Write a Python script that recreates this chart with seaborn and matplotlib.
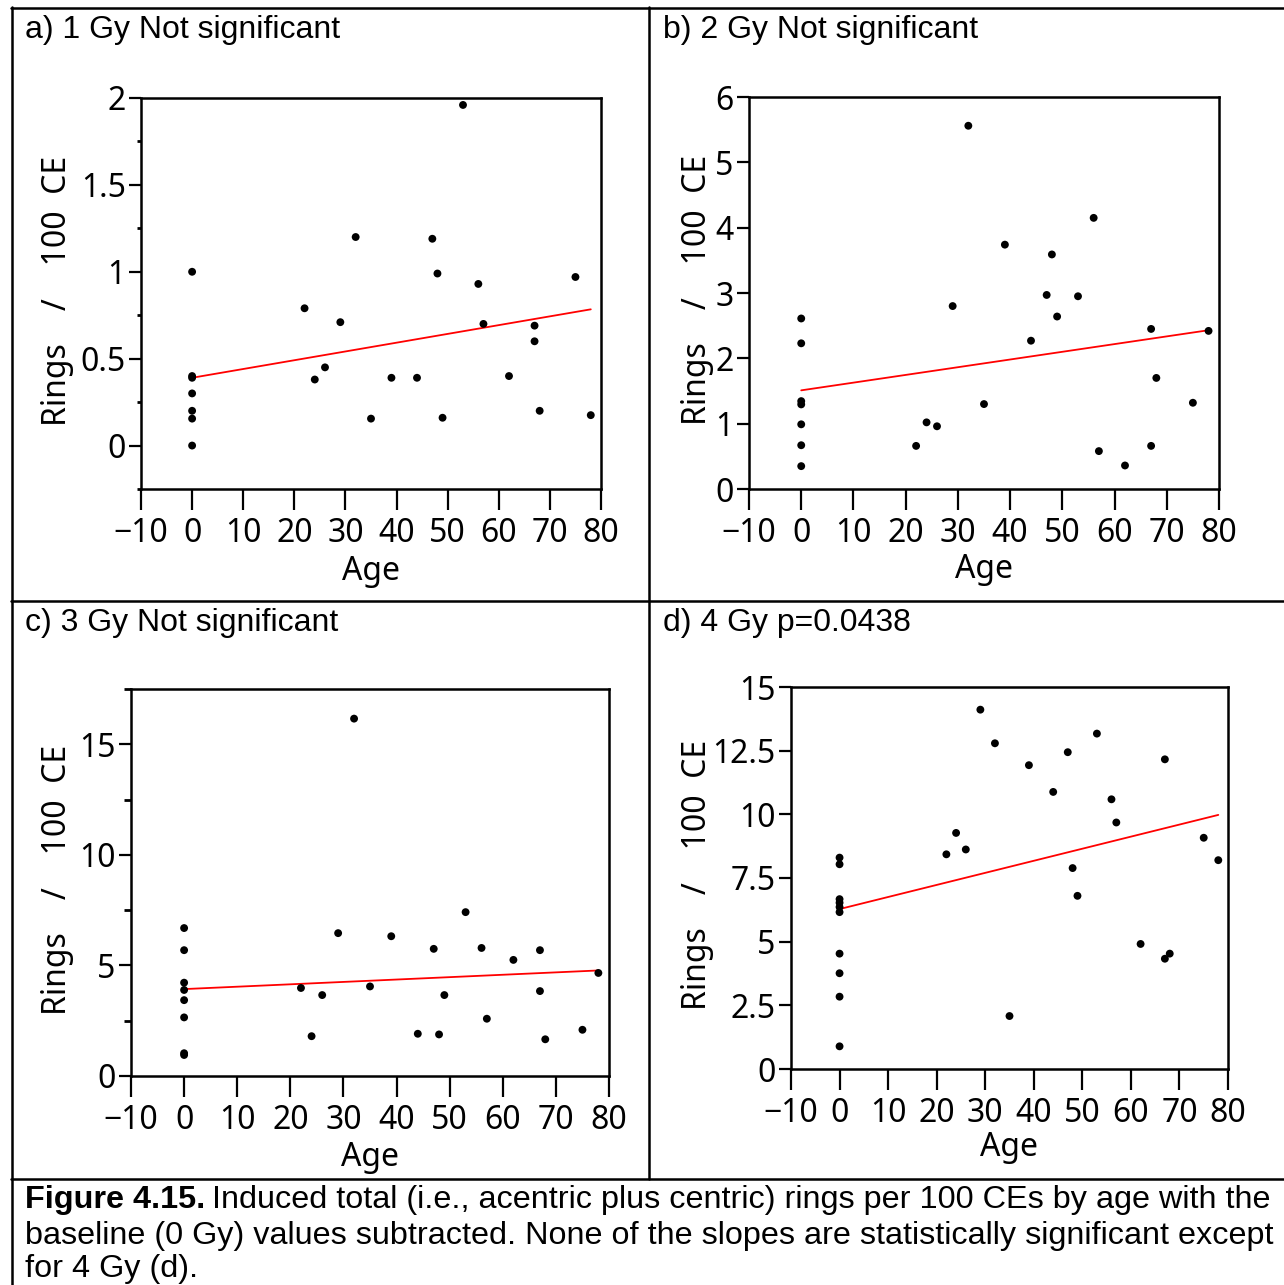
import matplotlib
matplotlib.use("Agg")
import matplotlib.pyplot as plt
from matplotlib.ticker import MultipleLocator, FuncFormatter, NullLocator
from matplotlib.lines import Line2D
import numpy as np
import pandas as pd
import seaborn as sns

# ---------------- data ----------------
age_a = [0, 0, 0, 0, 0, 0, 0,
         22, 24, 26, 29, 32, 35, 39, 44, 47, 48, 49, 53, 56, 57, 62, 67, 67, 68, 75, 78]
rings_a = [1.00, 0.40, 0.39, 0.30, 0.20, 0.155, 0.0,
           0.79, 0.38, 0.45, 0.71, 1.20, 0.155, 0.39, 0.39, 1.19, 0.99, 0.16, 1.96,
           0.93, 0.70, 0.40, 0.69, 0.60, 0.20, 0.97, 0.175]

age_b = [0, 0, 0, 0, 0, 0, 0,
         22, 24, 26, 29, 32, 35, 39, 44, 47, 48, 49, 53, 56, 57, 62, 67, 67, 68, 75, 78]
rings_b = [2.61, 2.23, 1.345, 1.295, 0.99, 0.67, 0.35,
           0.66, 1.02, 0.96, 2.80, 5.56, 1.30, 3.74, 2.27, 2.97, 3.59, 2.64, 2.95,
           4.15, 0.58, 0.36, 2.45, 0.66, 1.70, 1.32, 2.42]

age_c = [0, 0, 0, 0, 0, 0, 0, 0,
         22, 24, 26, 29, 32, 35, 39, 44, 47, 48, 49, 53, 56, 57, 62, 67, 67, 68, 75, 78]
rings_c = [6.69, 5.69, 4.22, 3.89, 3.43, 2.65, 1.03, 0.95,
           3.98, 1.80, 3.66, 6.46, 16.16, 4.05, 6.32, 1.91, 5.75, 1.88, 3.66, 7.41,
           5.79, 2.59, 5.25, 5.69, 3.84, 1.66, 2.09, 4.66]

age_d = [0, 0, 0, 0, 0, 0, 0, 0, 0, 0,
         22, 24, 26, 29, 32, 35, 39, 44, 47, 48, 49, 53, 56, 57, 62, 67, 67, 68, 75, 78]
rings_d = [8.30, 8.04, 6.67, 6.53, 6.36, 6.16, 4.53, 3.76, 2.84, 0.89,
           8.43, 9.27, 8.62, 14.11, 12.79, 2.08, 11.93, 10.88, 12.44, 7.89, 6.80, 13.17,
           10.59, 9.68, 4.91, 12.16, 4.33, 4.53, 9.08, 8.20]

# fitted regression lines (intercept, slope)
fit_intercept = [0.39, 1.51, 3.93, 6.28]
fit_slope = [0.00505, 0.0118, 0.0108, 0.0474]
fit_age_range = [0, 78]

titles = ["a) 1 Gy Not significant", "b) 2 Gy Not significant",
          "c) 3 Gy Not significant", "d) 4 Gy p=0.0438"]
x_label = "Age"
y_label = "Rings    /    100  CE"
x_ticks = [-10, 0, 10, 20, 30, 40, 50, 60, 70, 80]
caption_bold = "Figure 4.15."
caption_lines = ["Induced total (i.e., acentric plus centric) rings per 100 CEs by age with the",
                 "baseline (0 Gy) values subtracted. None of the slopes are statistically significant except",
                 "for 4 Gy (d)."]

# ---------------- style ----------------
sns.set_theme(style="white")
plt.rcParams["font.family"] = ["Noto Sans", "DejaVu Sans"]
plt.rcParams["axes.unicode_minus"] = True

W, H = 1284, 1285
fig = plt.figure(figsize=(W / 100, H / 100), dpi=100)
fig.patch.set_facecolor("white")

# panel layout in pixels: (left, top, right, bottom)
boxes = [(141, 98, 601, 489), (749, 97, 1219, 489),
         (131, 689, 609, 1076), (791, 687, 1228, 1069)]
ylims = [(-0.25, 2.0), (0, 6), (0, 17.5), (0, 15)]
ymajor = [0.5, 1, 5, 2.5]
yminor = [0.25, None, 2.5, None]
yminor_len = [3, 0, 5, 0]
ylab_pos = [(57, 291), (697, 290), (57, 880), (697, 875)]
xlab_y = [572, 570, 1157, 1148]
title_pos = [(25, 38), (663, 38), (25, 631), (663, 631)]

datasets = [(age_a, rings_a), (age_b, rings_b), (age_c, rings_c), (age_d, rings_d)]

fmt = FuncFormatter(lambda v, p: ("%g" % v).replace("-", "\u2212"))

for i, ((ages, rings), box) in enumerate(zip(datasets, boxes)):
    l, t, r, b = box
    ax = fig.add_axes([l / W, 1 - b / H, (r - l) / W, (b - t) / H])
    df = pd.DataFrame({"Age": ages, "Rings": rings})
    sns.scatterplot(data=df, x="Age", y="Rings", color="black", s=32,
                    edgecolor="none", ax=ax, zorder=3)
    fit_df = pd.DataFrame({"Age": fit_age_range,
                           "Fit": [fit_intercept[i] + fit_slope[i] * a for a in fit_age_range]})
    sns.lineplot(data=fit_df, x="Age", y="Fit", color="red", lw=1.3, ax=ax, zorder=2)

    ax.set_xlim(-10, 80)
    ax.set_ylim(*ylims[i])
    ax.set_xticks(x_ticks)
    ax.xaxis.set_major_formatter(fmt)
    ax.yaxis.set_major_locator(MultipleLocator(ymajor[i]))
    ax.yaxis.set_major_formatter(fmt)
    if yminor[i]:
        ax.yaxis.set_minor_locator(MultipleLocator(yminor[i]))
    else:
        ax.yaxis.set_minor_locator(NullLocator())
    ax.xaxis.set_minor_locator(NullLocator())

    for s in ax.spines.values():
        s.set_visible(True)
        s.set_linewidth(1.8)
        s.set_color("black")
    ax.set_facecolor("white")
    ax.tick_params(axis="x", which="major", direction="out", length=15, width=1.6,
                   pad=5, labelsize=23, colors="black", bottom=True)
    ax.tick_params(axis="y", which="major", direction="out", length=9, width=1.6,
                   pad=2, labelsize=23, colors="black", left=True)
    ax.tick_params(axis="y", which="minor", direction="out", length=yminor_len[i], width=2,
                   colors="black", left=True)

    ax.set_xlabel(x_label, fontsize=23, color="black")
    ax.set_ylabel(y_label, fontsize=23, color="black")
    ax.xaxis.label.set_va("center")
    ax.yaxis.label.set_va("center")
    ax.xaxis.set_label_coords(0.5, (b - xlab_y[i]) / (b - t))
    ax.yaxis.set_label_coords((ylab_pos[i][0] - l) / (r - l), (b - ylab_pos[i][1]) / (b - t))

    fig.text(title_pos[i][0] / W, 1 - title_pos[i][1] / H, titles[i],
             fontfamily="Liberation Sans", fontsize=23, va="baseline", ha="left",
             color="black")

# ---------------- frame lines ----------------
def hline(y, x0, x1):
    fig.add_artist(Line2D([x0 / W, x1 / W], [1 - y / H, 1 - y / H],
                          transform=fig.transFigure, color="black", lw=1.8))

def vline(x, y0, y1):
    fig.add_artist(Line2D([x / W, x / W], [1 - y0 / H, 1 - y1 / H],
                          transform=fig.transFigure, color="black", lw=1.8))

hline(8, 11, W)
hline(601, 11, W)
hline(1179, 11, W)
vline(12, 7, H)
vline(649, 7, 1179)

# ---------------- caption ----------------
cap_size = 23.3
base_y = [1208, 1244, 1277]
tb = fig.text(25 / W, 1 - base_y[0] / H, caption_bold, fontfamily="Liberation Sans",
              fontweight="bold", fontsize=cap_size, va="baseline", ha="left", color="black")
fig.canvas.draw()
ext = tb.get_window_extent(renderer=fig.canvas.get_renderer())
space_px = 7
fig.text((ext.x1 + space_px) / W, 1 - base_y[0] / H, caption_lines[0],
         fontfamily="Liberation Sans", fontsize=cap_size, va="baseline", ha="left", color="black")
for k in (1, 2):
    fig.text(25 / W, 1 - base_y[k] / H, caption_lines[k], fontfamily="Liberation Sans",
             fontsize=cap_size, va="baseline", ha="left", color="black")

fig.savefig("out.png", dpi=100, facecolor="white")
